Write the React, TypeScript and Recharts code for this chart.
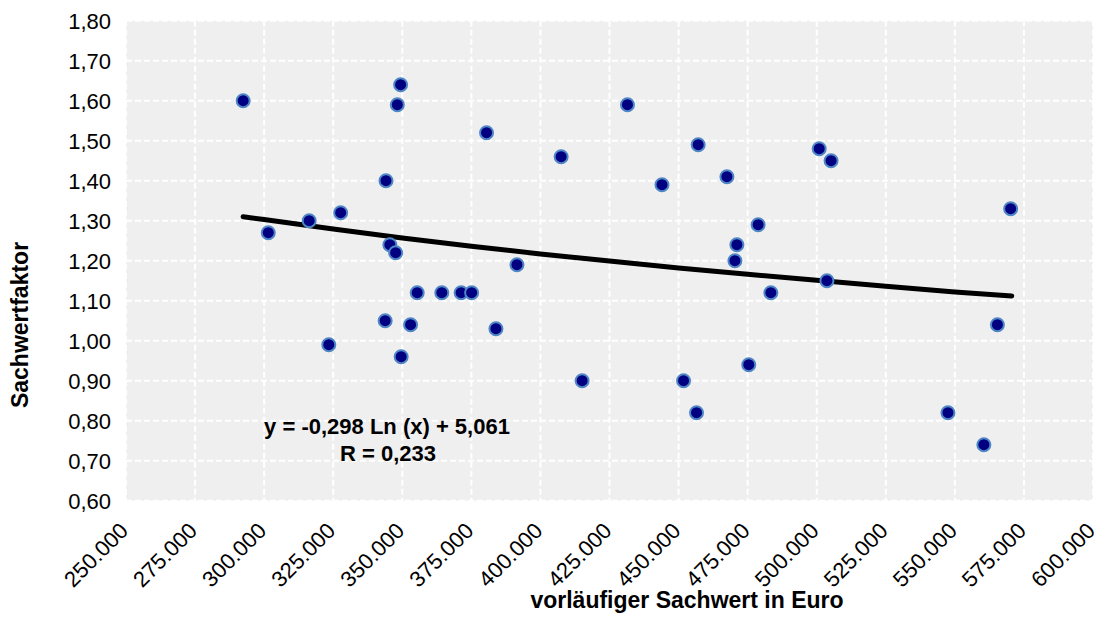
import { ScatterChart, Scatter, XAxis, YAxis, CartesianGrid, Customized } from 'recharts';

// vorläufiger Sachwert in Euro
const sachwert = [
  292400, 301500, 316300, 323400, 327700, 343800, 344100, 345500, 347600, 348200,
  349400, 349600, 353000, 355400, 364300, 371300, 375100, 380500, 383900, 391500,
  407500, 415100, 431500, 444000, 451800, 456500, 457100, 467500, 470400, 471100,
  475400, 478800, 483400, 500900, 503700, 505200, 547500, 560500, 565400, 570200,
];

// Sachwertfaktor
const faktor = [
  1.60, 1.27, 1.30, 0.99, 1.32, 1.05, 1.40, 1.24, 1.22, 1.59,
  1.64, 0.96, 1.04, 1.12, 1.12, 1.12, 1.12, 1.52, 1.03, 1.19,
  1.46, 0.90, 1.59, 1.39, 0.90, 0.82, 1.49, 1.41, 1.20, 1.24,
  0.94, 1.29, 1.12, 1.48, 1.15, 1.45, 0.82, 0.74, 1.04, 1.33,
];

// logarithmic trend line
const trendX = [292400, 300000, 325000, 350000, 375000, 400000, 425000, 450000, 475000, 500000, 525000, 550000, 570600];
const trendY = [1.310, 1.303, 1.279, 1.257, 1.236, 1.217, 1.199, 1.182, 1.166, 1.151, 1.136, 1.122, 1.112];

const xTicks = [250000, 275000, 300000, 325000, 350000, 375000, 400000, 425000, 450000, 475000, 500000, 525000, 550000, 575000, 600000];
const yTicks = [0.6, 0.7, 0.8, 0.9, 1.0, 1.1, 1.2, 1.3, 1.4, 1.5, 1.6, 1.7, 1.8];

const FONT = '"Liberation Sans", Arial, sans-serif';

const points = sachwert.map((x, i) => ({ x, y: faktor[i] }));
const trend = trendX.map((x, i) => ({ x, y: trendY[i] }));

const fmtX = (v: number) => v.toLocaleString('de-DE');
const fmtY = (v: number) => v.toFixed(2).replace('.', ',');

const XTick = ({ x, y, payload }: any) => (
  <text
    x={x - 2}
    y={y + 26}
    transform={`rotate(-45 ${x - 2} ${y + 26})`}
    textAnchor="end"
    dy="0.35em"
    fontSize={22}
    fontFamily={FONT}
    fill="#000"
  >
    {fmtX(payload.value)}
  </text>
);

const Dot = (props: any) => (
  <circle cx={props.cx} cy={props.cy} r={6.5} fill="#000080" stroke="#4f86c6" strokeWidth={2} />
);

const Annotations = () => (
  <g fontFamily={FONT} fill="#000" fontWeight="bold">
    <text x={379} y={418} dy="0.35em" textAnchor="middle" fontSize={22}>y = -0,298 Ln (x) + 5,061</text>
    <text x={380} y={445} dy="0.35em" textAnchor="middle" fontSize={22}>R = 0,233</text>
    <text x={679} y={600} textAnchor="middle" fontSize={23}>vorläufiger Sachwert in Euro</text>
    <text x={20} y={317} transform="rotate(-90 20 317)" textAnchor="middle" fontSize={23}>Sachwertfaktor</text>
  </g>
);

export default function App() {
  return (
    <div style={{ width: 1094, height: 609, background: '#fff' }}>
      <ScatterChart width={1094} height={609} margin={{ top: 12.7, right: 9, left: 0, bottom: 0 }}>
        <CartesianGrid fill="#efefef" stroke="#ffffff" strokeWidth={2} strokeDasharray="6 3" />
        <XAxis
          type="number"
          dataKey="x"
          domain={[250000, 600000]}
          ticks={xTicks}
          interval={0}
          height={116.3}
          axisLine={false}
          tickLine={false}
          tickSize={0}
          tickMargin={0}
          tick={<XTick />}
        />
        <YAxis
          type="number"
          dataKey="y"
          domain={[0.6, 1.8]}
          ticks={yTicks}
          interval={0}
          width={118}
          axisLine={false}
          tickLine={false}
          tickSize={0}
          tickMargin={15}
          tickFormatter={fmtY}
          tick={{ fontSize: 22, fontFamily: FONT, fill: '#000' }}
        />
        <Scatter
          data={trend}
          line={{ stroke: '#000', strokeWidth: 5, strokeLinecap: 'round' }}
          lineType="joint"
          shape={() => <g />}
          isAnimationActive={false}
        />
        <Scatter data={points} shape={<Dot />} isAnimationActive={false} />
        <Customized component={Annotations} />
      </ScatterChart>
    </div>
  );
}
